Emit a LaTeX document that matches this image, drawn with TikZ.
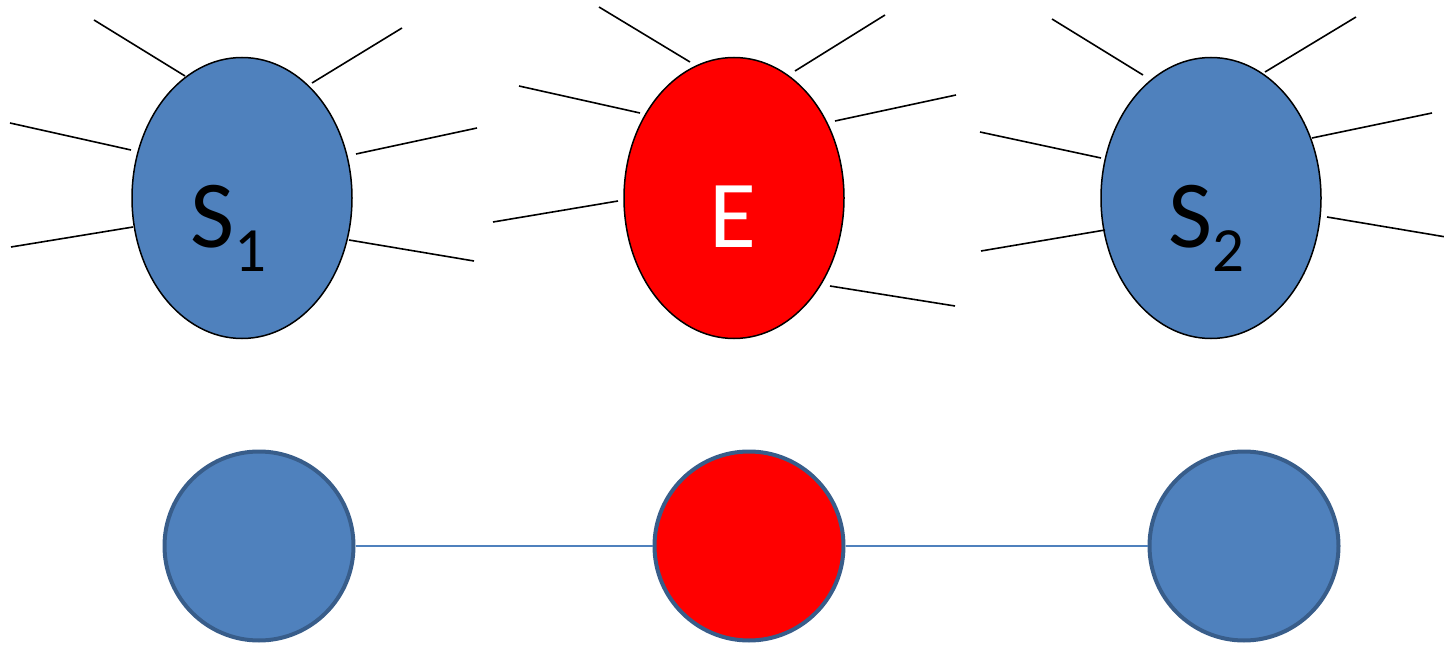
\documentclass[tikz,border=0pt]{standalone}
\usepackage{fontspec}
\setmainfont{Carlito}
\usetikzlibrary{shapes.geometric}
\definecolor{sblue}{HTML}{4F81BD}
\definecolor{sborder}{HTML}{385D8A}
\definecolor{ered}{HTML}{FF0000}
\begin{document}
\begin{tikzpicture}[x=1pt,y=-1pt,
  bigell/.style={ellipse,draw=black,line width=1.5pt,minimum width=220pt,minimum height=281pt,inner sep=0pt},
  spoke/.style={draw=black,line width=1.6pt},
  dot/.style={circle,draw=sborder,line width=4pt,minimum size=189pt,inner sep=0pt},
  link/.style={draw=sblue,line width=2pt},
  lbl/.style={inner sep=0pt,anchor=base west,font=\fontsize{96pt}{96pt}\selectfont}]
\useasboundingbox (0,0) rectangle (1444,647);
% top ellipses
\node[bigell,fill=sblue] (s1) at (242,198) {};
\node[bigell,fill=ered] (e) at (734,198) {};
\node[bigell,fill=sblue] (s2) at (1211,198) {};
% labels
\node[lbl] (s1lbl) at (190,248) {S\raisebox{-24pt}{\fontsize{63pt}{63pt}\selectfont 1}};
\node[lbl,text=white] (elbl) at (709,248) {E};
\node[lbl] (s2lbl) at (1168,248) {S\raisebox{-24pt}{\fontsize{63pt}{63pt}\selectfont 2}};
% spokes S1
\draw[spoke] (94,20) -- (185,76);
\draw[spoke] (312,83) -- (402,28);
\draw[spoke] (10,123) -- (131,150);
\draw[spoke] (356,154) -- (477,128);
\draw[spoke] (11,247) -- (133,227);
\draw[spoke] (349,240) -- (474,261);
% spokes E
\draw[spoke] (599,7) -- (690,62);
\draw[spoke] (795,71) -- (885,15);
\draw[spoke] (519,86) -- (640,113);
\draw[spoke] (835,121) -- (956,95);
\draw[spoke] (493,222) -- (618,201);
\draw[spoke] (830,286) -- (955,306);
% spokes S2
\draw[spoke] (1052,19) -- (1143,75);
\draw[spoke] (1265,72) -- (1356,17);
\draw[spoke] (980,132) -- (1101,158);
\draw[spoke] (1312,138) -- (1432,113);
\draw[spoke] (981,251) -- (1105,230);
\draw[spoke] (1327,217) -- (1446,237);
% bottom graph
\node[dot,fill=sblue] (b1) at (259,546) {};
\node[dot,fill=ered] (b2) at (749,546) {};
\node[dot,fill=sblue] (b3) at (1244,546) {};
\draw[link] (b1) -- (b2);
\draw[link] (b2) -- (b3);
\end{tikzpicture}
\end{document}
